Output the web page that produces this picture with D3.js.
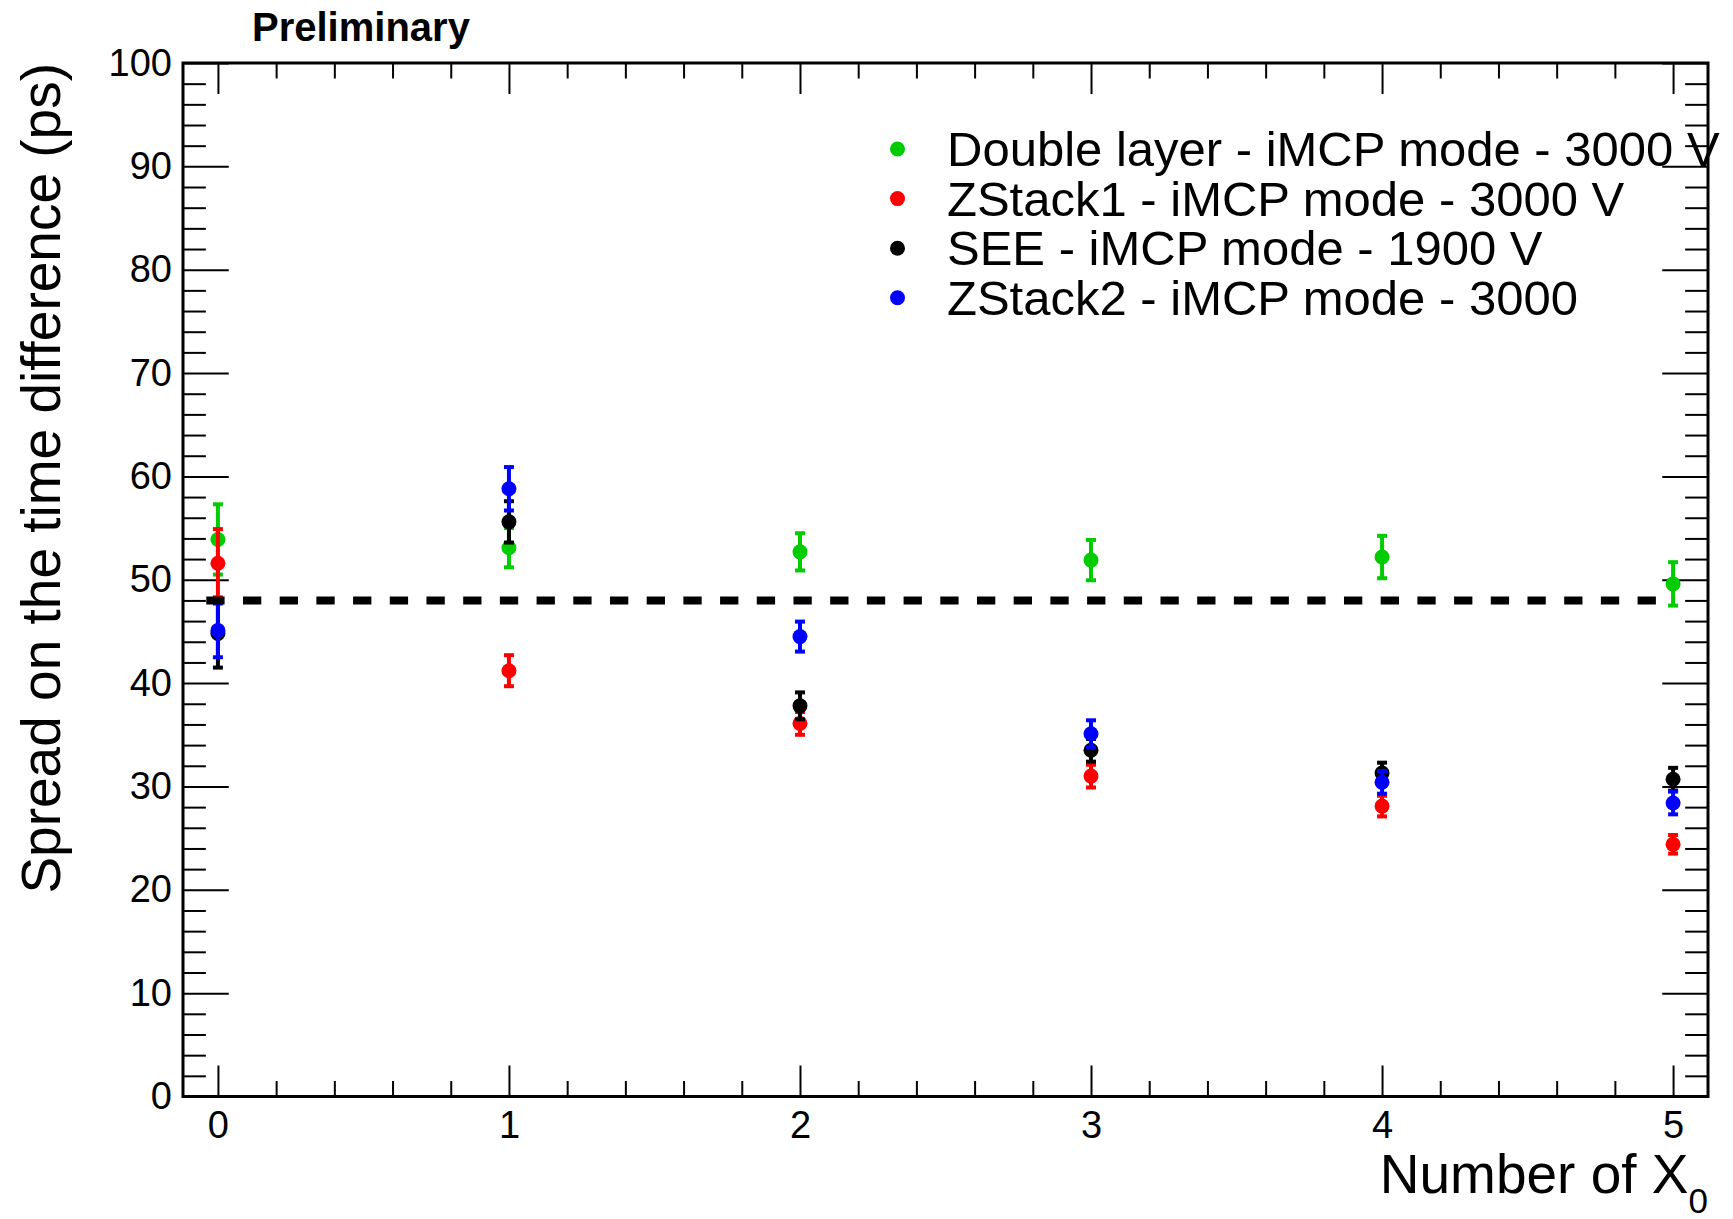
<!DOCTYPE html>
<html>
<head>
<meta charset="utf-8">
<script src="https://d3js.org/d3.v7.min.js"></script>
<style>
	body { margin: 0; background: #fff; }
	text { font-family: "Liberation Sans", Arial, Helvetica, sans-serif; fill: #000; }
</style>
</head>
<body>
<div id="chart"></div>
<script>
// x positions (number of X0)
const xValues = [0, 1, 2, 3, 4, 5];

// spread values (ps) and their errors
const doubleLayer    = [53.9, 53.1, 52.7, 51.9, 52.2, 49.6];
const doubleLayerErr = [3.4, 1.9, 1.8, 1.95, 2.05, 2.1];
const zstack1        = [51.6, 41.2, 36.1, 31.0, 28.1, 24.4];
const zstack1Err     = [3.3, 1.5, 1.1, 1.1, 1.0, 0.9];
const see            = [44.8, 55.6, 37.8, 33.5, 31.3, 30.7];
const seeErr         = [3.3, 2.0, 1.3, 1.1, 1.0, 1.1];
const zstack2        = [45.1, 58.8, 44.5, 35.1, 30.4, 28.4];
const zstack2Err     = [2.6, 2.1, 1.45, 1.3, 1.1, 1.1];

const seriesNames  = ["Double layer - iMCP mode - 3000 V", "ZStack1 - iMCP mode - 3000 V", "SEE - iMCP mode - 1900 V", "ZStack2 - iMCP mode - 3000"];
const seriesColors = ["#00cc00", "#ff0000", "#000000", "#0000ff"];

const xTicks = [0, 1, 2, 3, 4, 5];
const yTicks = [0, 10, 20, 30, 40, 50, 60, 70, 80, 90, 100];

// dashed reference line
const refLevel = 48;
const refRange = [-0.04, 5];

class ErrorPlot {
	constructor(_data){
		this.margin = {top: 63, right: 25, bottom: 122.5, left: 183};
		this.width = 1733 - this.margin.left - this.margin.right;
		this.height = 1219 - this.margin.top - this.margin.bottom;

		this.data = _data;

		this.initVis();
	}

	initVis() {
		let vis = this;

		vis.svg = d3.select("#chart").append("svg")
			.attr("width", 1733)
			.attr("height", 1219);

		vis.svg.append("rect")
			.attr("width", 1733).attr("height", 1219)
			.attr("fill", "#fff");

		vis.xScale = d3.scaleLinear().domain([-0.12, 5.12]).range([0, vis.width]);
		vis.yScale = d3.scaleLinear().domain([0, 100]).range([vis.height, 0]);

		vis.focus = vis.svg.append("g")
			.attr("transform", "translate(" + vis.margin.left + "," + vis.margin.top + ")");

		// ROOT style: ticks on all 4 sides, pointing inwards
		let xMajor = 0.03 * vis.height, yMajor = 0.03 * vis.width;
		let xMinorVals = d3.range(0, 5.001, 0.2).filter(d => Math.abs(d - Math.round(d)) > 0.01);
		let yMinorVals = d3.range(0, 100.1, 2).filter(d => d % 10 !== 0);

		vis.xAxis = d3.axisBottom(vis.xScale).tickValues(xTicks).tickSize(-xMajor).tickSizeOuter(0).tickPadding(15).tickFormat(d3.format("d"));
		vis.xAxisMinor = d3.axisBottom(vis.xScale).tickValues(xMinorVals).tickSize(-xMajor / 2).tickSizeOuter(0).tickFormat("");
		vis.xAxisTop = d3.axisTop(vis.xScale).tickValues(xTicks).tickSize(-xMajor).tickSizeOuter(0).tickFormat("");
		vis.xAxisTopMinor = d3.axisTop(vis.xScale).tickValues(xMinorVals).tickSize(-xMajor / 2).tickSizeOuter(0).tickFormat("");

		vis.yAxis = d3.axisLeft(vis.yScale).tickValues(yTicks).tickSize(-yMajor).tickSizeOuter(0).tickPadding(11).tickFormat(d3.format("d"));
		vis.yAxisMinor = d3.axisLeft(vis.yScale).tickValues(yMinorVals).tickSize(-yMajor / 2).tickSizeOuter(0).tickFormat("");
		vis.yAxisRight = d3.axisRight(vis.yScale).tickValues(yTicks).tickSize(-yMajor).tickSizeOuter(0).tickFormat("");
		vis.yAxisRightMinor = d3.axisRight(vis.yScale).tickValues(yMinorVals).tickSize(-yMajor / 2).tickSizeOuter(0).tickFormat("");

		let axes = [
			[vis.xAxis, `translate(0,${vis.height})`],
			[vis.xAxisMinor, `translate(0,${vis.height})`],
			[vis.xAxisTop, null],
			[vis.xAxisTopMinor, null],
			[vis.yAxis, null],
			[vis.yAxisMinor, null],
			[vis.yAxisRight, `translate(${vis.width},0)`],
			[vis.yAxisRightMinor, `translate(${vis.width},0)`]
		];
		axes.forEach(function(a){
			let g = vis.focus.append("g").attr("class", "axis");
			if (a[1]) g.attr("transform", a[1]);
			g.call(a[0]);
			g.select(".domain").remove();
			g.selectAll("line").attr("stroke", "#000").attr("stroke-width", 2);
			g.selectAll("text").style("font-size", "38px").attr("fill", "#000");
		});

		// frame
		vis.focus.append("rect")
			.attr("width", vis.width)
			.attr("height", vis.height)
			.attr("fill", "none")
			.attr("stroke", "#000")
			.attr("stroke-width", 3);

		// axis titles
		vis.svg.append("text")
			.attr("transform", "rotate(-90)")
			.attr("x", -vis.margin.top)
			.attr("y", 60)
			.style("text-anchor", "end")
			.style("font-size", "55px")
			.text("Spread on the time difference (ps)");

		let xt = vis.svg.append("text")
			.attr("x", vis.margin.left + vis.width)
			.attr("y", 1193)
			.style("text-anchor", "end")
			.style("font-size", "55px")
			.text("Number of X");
		xt.append("tspan")
			.attr("dy", 20)
			.style("font-size", "35px")
			.text("0");

		vis.svg.append("text")
			.attr("x", 252)
			.attr("y", 41)
			.style("font-size", "40px")
			.style("font-weight", "bold")
			.text("Preliminary");
	}

	renderVis(){
		let vis = this;

		let groups = vis.focus.selectAll(".series")
			.data(vis.data)
			.join("g")
			.attr("class", "series")
			.attr("fill", d => d.color)
			.attr("stroke", d => d.color);

		let pts = groups.selectAll(".pt")
			.data(d => d.points)
			.join("g")
			.attr("class", "pt");

		pts.append("line")
			.attr("x1", d => vis.xScale(d.x)).attr("x2", d => vis.xScale(d.x))
			.attr("y1", d => vis.yScale(d.y - d.err)).attr("y2", d => vis.yScale(d.y + d.err))
			.attr("stroke-width", 4);
		pts.append("line")
			.attr("x1", d => vis.xScale(d.x) - 5).attr("x2", d => vis.xScale(d.x) + 5)
			.attr("y1", d => vis.yScale(d.y + d.err)).attr("y2", d => vis.yScale(d.y + d.err))
			.attr("stroke-width", 4);
		pts.append("line")
			.attr("x1", d => vis.xScale(d.x) - 5).attr("x2", d => vis.xScale(d.x) + 5)
			.attr("y1", d => vis.yScale(d.y - d.err)).attr("y2", d => vis.yScale(d.y - d.err))
			.attr("stroke-width", 4);
		pts.append("circle")
			.attr("cx", d => vis.xScale(d.x))
			.attr("cy", d => vis.yScale(d.y))
			.attr("r", 7.5)
			.attr("stroke", "none");

		// dashed line at 48 ps
		vis.focus.append("line")
			.attr("x1", vis.xScale(refRange[0])).attr("x2", vis.xScale(refRange[1]))
			.attr("y1", vis.yScale(refLevel)).attr("y2", vis.yScale(refLevel))
			.attr("stroke", "#000")
			.attr("stroke-width", 8)
			.attr("stroke-dasharray", "18.3,18.4");

		// legend (no box)
		let leg = vis.svg.append("g").attr("class", "legend");
		vis.data.forEach(function(s, i){
			let yb = 166 + i * 49.6;
			leg.append("circle")
				.attr("cx", 897.5).attr("cy", yb - 17)
				.attr("r", 7.5)
				.attr("fill", s.color);
			leg.append("text")
				.attr("x", 947).attr("y", yb)
				.style("font-size", "49px")
				.text(s.name);
		});
	}
}

let values = [doubleLayer, zstack1, see, zstack2];
let errors = [doubleLayerErr, zstack1Err, seeErr, zstack2Err];
let data = seriesNames.map(function(name, i){
	return {
		name: name,
		color: seriesColors[i],
		points: xValues.map((x, j) => ({x: x, y: values[i][j], err: errors[i][j]}))
	};
});

let plot = new ErrorPlot(data);
plot.renderVis();
</script>
</body>
</html>
